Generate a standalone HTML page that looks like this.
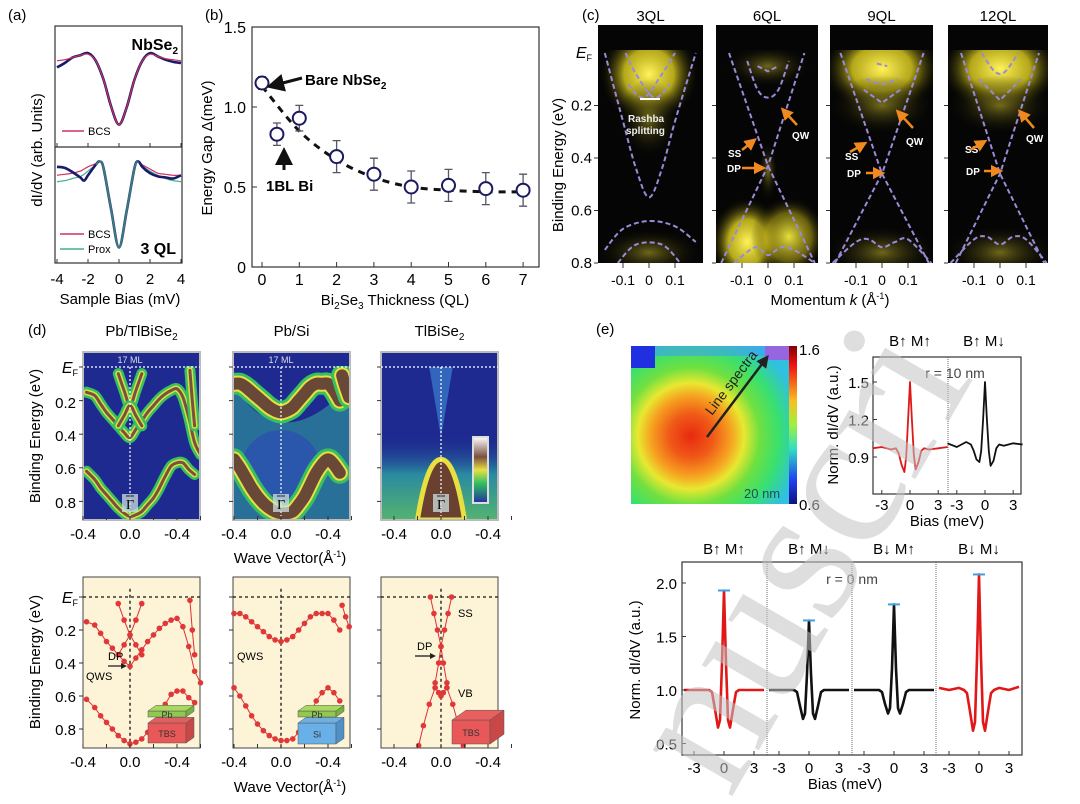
<!DOCTYPE html>
<html><head><meta charset="utf-8">
<style>
html,body{margin:0;padding:0;background:#fff;width:1080px;height:804px;overflow:hidden;}
svg{display:block;overflow:hidden;font-family:"Liberation Sans",Arial,sans-serif;}
</style></head>
<body>
<svg id="fig" width="1080" height="804" viewBox="0 0 1080 804" xmlns="http://www.w3.org/2000/svg">
<defs>
  <clipPath id="pageClip"><rect x="0" y="0" width="1080" height="804"/></clipPath>
  <radialGradient id="glowY" cx="50%" cy="50%" r="50%"><stop offset="0" stop-color="#f2ea40" stop-opacity="0.95"/><stop offset="0.6" stop-color="#b8a818" stop-opacity="0.55"/><stop offset="1" stop-color="#000" stop-opacity="0"/></radialGradient>
  <radialGradient id="glowY2" cx="50%" cy="50%" r="50%"><stop offset="0" stop-color="#fff25a" stop-opacity="1"/><stop offset="0.5" stop-color="#e0d020" stop-opacity="0.8"/><stop offset="1" stop-color="#000" stop-opacity="0"/></radialGradient>
  <radialGradient id="glowDim" cx="50%" cy="50%" r="50%"><stop offset="0" stop-color="#8a8020" stop-opacity="0.8"/><stop offset="1" stop-color="#000" stop-opacity="0"/></radialGradient>
  <radialGradient id="mapG" cx="38%" cy="57%" r="70%"><stop offset="0" stop-color="#e82a10"/><stop offset="0.2" stop-color="#f05a18"/><stop offset="0.36" stop-color="#f6a020"/><stop offset="0.48" stop-color="#e8e830"/><stop offset="0.62" stop-color="#70e040"/><stop offset="0.8" stop-color="#38e070"/><stop offset="1" stop-color="#30c0e0"/></radialGradient>
  <linearGradient id="cbar" x1="0" y1="0" x2="0" y2="1"><stop offset="0" stop-color="#800000"/><stop offset="0.12" stop-color="#f01010"/><stop offset="0.35" stop-color="#f8c020"/><stop offset="0.5" stop-color="#a0f040"/><stop offset="0.65" stop-color="#30e0c0"/><stop offset="0.85" stop-color="#2040f0"/><stop offset="1" stop-color="#101080"/></linearGradient>
  <linearGradient id="legG" x1="0" y1="0" x2="0" y2="1"><stop offset="0" stop-color="#fff"/><stop offset="0.3" stop-color="#7a5040"/><stop offset="0.5" stop-color="#e8e040"/><stop offset="0.7" stop-color="#30c060"/><stop offset="1" stop-color="#2030a0"/></linearGradient>
  <linearGradient id="tlbLow" x1="0" y1="0" x2="0" y2="1"><stop offset="0" stop-color="#1e2a90" stop-opacity="0"/><stop offset="0.4" stop-color="#2a8aa0"/><stop offset="1" stop-color="#60c060"/></linearGradient>
  <marker id="arrB" markerWidth="6" markerHeight="6" refX="3" refY="3" orient="auto"><path d="M0,0 L6,3 L0,6 z" fill="#111"/></marker>
  <marker id="arrO" markerWidth="5" markerHeight="5" refX="2.5" refY="2.5" orient="auto"><path d="M0,0 L5,2.5 L0,5 z" fill="#f08a20"/></marker>
  <marker id="arrK" markerWidth="5" markerHeight="5" refX="2.5" refY="2.5" orient="auto"><path d="M0,0 L5,2.5 L0,5 z" fill="#222"/></marker>
</defs>
<g clip-path="url(#pageClip)">

<!-- ===== (a) ===== -->
<g>
  <text x="8" y="20" font-size="15">(a)</text>
  <rect x="55" y="26" width="127" height="237" fill="none" stroke="#333" stroke-width="1.2"/>
  <line x1="55" y1="147" x2="182" y2="147" stroke="#333" stroke-width="1.2"/>
  <text x="178" y="50" font-size="16" font-weight="bold" text-anchor="end">NbSe<tspan font-size="10" dy="4">2</tspan></text>
  <text x="176" y="254" font-size="16" font-weight="bold" text-anchor="end">3 QL</text>
  <line x1="62" y1="131" x2="84" y2="131" stroke="#d03060" stroke-width="1.5"/>
  <text x="88" y="135" font-size="11">BCS</text>
  <line x1="60" y1="234" x2="84" y2="234" stroke="#d03060" stroke-width="1.5"/>
  <text x="88" y="238" font-size="11">BCS</text>
  <line x1="60" y1="249" x2="84" y2="249" stroke="#40b090" stroke-width="1.5"/>
  <text x="88" y="253" font-size="11">Prox</text>
  <g id="aCurves"></g>
  <g id="aTicks" font-size="15" text-anchor="middle"></g>
  <text x="120" y="304" font-size="15" text-anchor="middle">Sample Bias (mV)</text>
  <text transform="translate(42,150) rotate(-90)" font-size="15" text-anchor="middle">dI/dV (arb. Units)</text>
</g>

<!-- ===== (b) ===== -->
<g>
  <text x="205" y="20" font-size="15">(b)</text>
  <rect x="252" y="27" width="287" height="240" fill="none" stroke="#333" stroke-width="1.2"/>
  <g id="bTicks" font-size="16"></g>
  <g id="bMarks"></g>
  <text x="305" y="85" font-size="15" font-weight="bold">Bare NbSe<tspan font-size="10" dy="4">2</tspan></text>
  <line x1="302" y1="78" x2="275" y2="85" stroke="#111" stroke-width="3" marker-end="url(#arrB)"/>
  <text x="266" y="191" font-size="15" font-weight="bold">1BL Bi</text>
  <line x1="284" y1="170" x2="284" y2="156" stroke="#111" stroke-width="3" marker-end="url(#arrB)"/>
  <text x="395" y="305" font-size="15" text-anchor="middle">Bi<tspan font-size="10" dy="4">2</tspan><tspan dy="-4">Se</tspan><tspan font-size="10" dy="4">3</tspan><tspan dy="-4"> Thickness (QL)</tspan></text>
  <text transform="translate(212,148) rotate(-90)" font-size="15" text-anchor="middle">Energy Gap Δ(meV)</text>
</g>

<!-- ===== (c) ===== -->
<g>
  <text x="582" y="20" font-size="15">(c)</text>
  <g id="cPanels"></g>
  <g font-size="14" text-anchor="end">
    <text x="592" y="58" font-style="italic" font-size="16">E<tspan font-size="9" dy="3" font-style="normal">F</tspan></text>
  </g>
  <text transform="translate(563,165) rotate(-90)" font-size="15" text-anchor="middle">Binding Energy (eV)</text>
  <text x="830" y="305" font-size="15" text-anchor="middle">Momentum <tspan font-style="italic">k</tspan> (Å<tspan font-size="9" dy="-6">-1</tspan><tspan dy="6">)</tspan></text>
  <g font-size="10" font-weight="bold" fill="#fff">
    <text x="628" y="122" fill="#eee">Rashba</text>
    <text x="626" y="134" fill="#eee">splitting</text>
    <line x1="640" y1="99" x2="660" y2="99" stroke="#fff" stroke-width="2"/>
    <text x="728" y="157">SS</text>
    <text x="727" y="172">DP</text>
    <text x="792" y="139">QW</text>
    <text x="845" y="160">SS</text>
    <text x="847" y="177">DP</text>
    <text x="906" y="145">QW</text>
    <text x="965" y="153">SS</text>
    <text x="966" y="175">DP</text>
    <text x="1026" y="142">QW</text>
  </g>
  <g stroke="#f08a20" stroke-width="2.5" marker-end="url(#arrO)">
    <line x1="742" y1="150" x2="752" y2="142"/>
    <line x1="742" y1="168" x2="760" y2="168"/>
    <line x1="797" y1="125" x2="785" y2="112"/>
    <line x1="850" y1="152" x2="862" y2="145"/>
    <line x1="866" y1="173" x2="879" y2="173"/>
    <line x1="913" y1="128" x2="900" y2="114"/>
    <line x1="970" y1="150" x2="982" y2="143"/>
    <line x1="984" y1="171" x2="997" y2="171"/>
    <line x1="1034" y1="128" x2="1022" y2="114"/>
  </g>
</g>

<!-- ===== (d) ===== -->
<g>
  <text x="28" y="335" font-size="15">(d)</text>
  <g id="dPanels"></g>
  <text transform="translate(40,436) rotate(-90)" font-size="15" text-anchor="middle">Binding Energy (eV)</text>
  <text transform="translate(40,662) rotate(-90)" font-size="15" text-anchor="middle">Binding Energy (eV)</text>
  <text x="290" y="563" font-size="15" text-anchor="middle">Wave Vector(Å<tspan font-size="9" dy="-6">-1</tspan><tspan dy="6">)</tspan></text>
  <text x="290" y="792" font-size="15" text-anchor="middle">Wave Vector(Å<tspan font-size="9" dy="-6">-1</tspan><tspan dy="6">)</tspan></text>
</g>

<!-- ===== (e) ===== -->
<g>
  <text x="596" y="334" font-size="15">(e)</text>
  <rect x="631" y="346" width="158" height="158" fill="url(#mapG)"/>
  <rect x="631" y="346" width="24" height="22" fill="#2030e0"/>
  <rect x="655" y="346" width="110" height="10" fill="#40a0f0" opacity="0.6"/>
  <rect x="765" y="346" width="24" height="14" fill="#c040e0" opacity="0.7"/>
  <line x1="707" y1="437" x2="765" y2="360" stroke="#222" stroke-width="2.5" marker-end="url(#arrK)"/>
  <text transform="translate(712,416) rotate(-53)" font-size="14" fill="#222">Line spectra</text>
  <text x="744" y="498" font-size="13" fill="#205060">20 nm</text>
  <rect x="789" y="346" width="8" height="158" fill="url(#cbar)"/>
  <text x="799" y="355" font-size="15">1.6</text>
  <text x="799" y="510" font-size="15">0.6</text>
  <rect x="873" y="357" width="148" height="137" fill="none" stroke="#333" stroke-width="1.2"/>
  <line x1="948" y1="357" x2="948" y2="494" stroke="#444" stroke-width="0.8" stroke-dasharray="1,1"/>
  <text x="910" y="346" font-size="15" text-anchor="middle">B↑ M↑</text>
  <text x="984" y="346" font-size="15" text-anchor="middle">B↑ M↓</text>
  <text x="955" y="378" font-size="14" fill="#444" text-anchor="middle">r = 10 nm</text>
  <text x="947" y="526" font-size="15" text-anchor="middle">Bias (meV)</text>
  <text transform="translate(838,425) rotate(-90)" font-size="15" text-anchor="middle">Norm. dI/dV (a.u.)</text>
  <g id="eSmall"></g>
  <rect x="682" y="562" width="340" height="193" fill="none" stroke="#333" stroke-width="1.2"/>
  <line x1="767" y1="562" x2="767" y2="755" stroke="#444" stroke-width="0.8" stroke-dasharray="1,1"/>
  <line x1="852" y1="562" x2="852" y2="755" stroke="#444" stroke-width="0.8" stroke-dasharray="1,1"/>
  <line x1="936" y1="562" x2="936" y2="755" stroke="#444" stroke-width="0.8" stroke-dasharray="1,1"/>
  <text x="724" y="554" font-size="15" text-anchor="middle">B↑ M↑</text>
  <text x="809" y="554" font-size="15" text-anchor="middle">B↑ M↓</text>
  <text x="894" y="554" font-size="15" text-anchor="middle">B↓ M↑</text>
  <text x="979" y="554" font-size="15" text-anchor="middle">B↓ M↓</text>
  <text x="852" y="584" font-size="14" fill="#444" text-anchor="middle">r = 0 nm</text>
  <text x="845" y="789" font-size="15" text-anchor="middle">Bias (meV)</text>
  <text transform="translate(640,660) rotate(-90)" font-size="15" text-anchor="middle">Norm. dI/dV (a.u.)</text>
  <g id="eBig"></g>
</g>

<!-- watermark -->
<g fill="#c4c4c4" opacity="0.55" font-size="200" font-family="'Liberation Serif',serif">
  <text transform="translate(730,800) rotate(-60)">nuscri</text>
</g>
</g>
</svg>

<script>
// ---------- data ----------
// (a)
const aBias = [-4,-3.5,-3,-2.5,-2,-1.5,-1,-0.5,0,0.5,1,1.5,2,2.5,3,3.5,4];
const aNbSe2 = [0.66,0.70,0.75,0.77,0.79,0.72,0.55,0.30,0.14,0.30,0.55,0.72,0.79,0.76,0.73,0.71,0.70];
const aNbSe2Bcs = [0.72,0.73,0.75,0.77,0.78,0.72,0.55,0.30,0.14,0.30,0.55,0.72,0.78,0.76,0.74,0.73,0.72];
const aBias2 = [-4,-3.5,-3,-2.5,-2.25,-2,-1.5,-1.25,-1,-0.5,0,0.5,1,1.25,1.5,2,2.5,3,3.5,4];
const a3QL = [0.86,0.85,0.81,0.76,0.73,0.78,0.88,0.91,0.85,0.45,0.10,0.45,0.85,0.91,0.86,0.80,0.77,0.76,0.75,0.78];
const a3QLBcs = [0.78,0.79,0.80,0.82,0.84,0.86,0.89,0.91,0.85,0.45,0.10,0.45,0.85,0.91,0.88,0.84,0.80,0.79,0.78,0.78];
const a3QLProx = [0.72,0.73,0.75,0.77,0.79,0.82,0.88,0.91,0.85,0.45,0.10,0.45,0.85,0.91,0.87,0.82,0.78,0.75,0.73,0.72];
const aTicks = [-4,-2,0,2,4];
// (b)
const bThick = [0,0.4,1,2,3,4,5,6,7];
const bGap = [1.15,0.83,0.93,0.69,0.58,0.50,0.51,0.49,0.48];
const bErr = [0.04,0.07,0.08,0.10,0.10,0.10,0.10,0.10,0.10];
const bFitX = [0,1,2,3,4,5,6,7];
const bFitY = [1.13,0.85,0.67,0.56,0.50,0.48,0.47,0.47];
const bYTicks = [0,0.5,1.0,1.5];
const bXTicks = [0,1,2,3,4,5,6,7];
// (c)
const cTitles = ['3QL','6QL','9QL','12QL'];
const cYTicks = [0.2,0.4,0.6,0.8];
const cXTicks = [-0.1,0,0.1];
const cBands = [
  [ {k:[-0.17,-0.1,-0.05,0,0.05,0.1,0.18], E:[0,0.26,0.44,0.55,0.44,0.26,0]},
    {k:[-0.09,-0.05,0.02,0.08], E:[0.0,0.08,0.17,0.12]},
    {k:[-0.08,-0.02,0.05,0.1], E:[0.12,0.17,0.08,0.0]},
    {k:[-0.17,-0.1,0,0.1,0.18], E:[0.75,0.67,0.64,0.66,0.72]},
    {k:[-0.12,-0.05,0.05,0.12], E:[0.8,0.73,0.73,0.8]} ],
  [ {k:[-0.15,0,0.18], E:[0,0.43,0.8]},
    {k:[-0.18,0,0.14], E:[0.8,0.43,0]},
    {k:[-0.08,-0.04,0,0.04,0.08], E:[0.03,0.14,0.17,0.14,0.03]},
    {k:[-0.04,0,0.04], E:[0.05,0.07,0.05]},
    {k:[-0.13,-0.05,0,0.05,0.1,0.18], E:[0.8,0.74,0.77,0.74,0.75,0.8]} ],
  [ {k:[-0.16,0,0.18], E:[0,0.46,0.8]},
    {k:[-0.18,0,0.16], E:[0.8,0.46,0]},
    {k:[-0.06,0,0.06], E:[0.1,0.12,0.1]},
    {k:[-0.07,0,0.07], E:[0.14,0.19,0.14]},
    {k:[-0.02,0.02], E:[0.04,0.05]},
    {k:[-0.19,-0.1,-0.05,0,0.05,0.1,0.19], E:[0.8,0.72,0.71,0.74,0.72,0.71,0.8]} ],
  [ {k:[-0.15,0,0.17], E:[0,0.46,0.8]},
    {k:[-0.17,0,0.15], E:[0.8,0.46,0]},
    {k:[-0.07,-0.03,0,0.03,0.07], E:[0.0,0.06,0.08,0.06,0.0]},
    {k:[-0.08,0,0.08], E:[0.1,0.18,0.1]},
    {k:[-0.19,-0.1,-0.05,0,0.05,0.1,0.18], E:[0.8,0.71,0.7,0.73,0.7,0.71,0.8]} ]
];
// (d)
const dTitles = ['Pb/TlBiSe2','Pb/Si','TlBiSe2'];
const dYTicks = [0.2,0.4,0.6,0.8];
const dXTicks = [-0.4,0,0.4];
const dXTickLabels = ['-0.4','0.0','-0.4'];
const dBands = [
  [ {k:[-0.37,-0.3,-0.25,-0.2,-0.15,-0.1,-0.05,0,0.05,0.1,0.15,0.2,0.25,0.3,0.35,0.4,0.45,0.5,0.55,0.6], E:[0.15,0.17,0.22,0.27,0.31,0.35,0.39,0.42,0.37,0.32,0.27,0.23,0.19,0.16,0.14,0.13,0.18,0.30,0.45,0.52]},
    {k:[-0.1,-0.05,0,0.05,0.1], E:[0.04,0.14,0.23,0.14,0.04]},
    {k:[-0.1,-0.05,0,0.05,0.1], E:[0.35,0.29,0.23,0.29,0.35]},
    {k:[0.51,0.53,0.55], E:[0.02,0.2,0.35]},
    {k:[-0.37,-0.3,-0.25,-0.2,-0.15,-0.1,-0.05,0,0.05,0.1,0.15,0.2,0.25,0.3,0.35,0.4,0.45,0.5,0.55], E:[0.62,0.67,0.72,0.76,0.80,0.84,0.87,0.89,0.88,0.86,0.82,0.78,0.72,0.65,0.59,0.57,0.57,0.61,0.64]} ],
  [ {k:[-0.4,-0.35,-0.3,-0.25,-0.2,-0.15,-0.1,-0.05,0,0.05,0.1,0.15,0.2,0.25,0.3,0.35,0.4,0.45,0.5], E:[0.1,0.1,0.12,0.15,0.18,0.21,0.24,0.26,0.27,0.26,0.24,0.2,0.16,0.12,0.1,0.1,0.1,0.14,0.2]},
    {k:[0.52,0.55,0.58], E:[0.05,0.12,0.18]},
    {k:[-0.4,-0.35,-0.3,-0.25,-0.2,-0.15,-0.1,-0.05,0,0.05,0.1,0.15,0.2,0.25,0.3,0.35,0.4,0.45,0.5], E:[0.55,0.6,0.66,0.72,0.77,0.81,0.84,0.86,0.87,0.87,0.86,0.82,0.77,0.7,0.63,0.58,0.55,0.58,0.63]} ],
  [ {k:[-0.09,-0.06,-0.03,0,0.03,0.06,0.09], E:[0,0.1,0.2,0.3,0.2,0.1,0]},
    {k:[-0.05,-0.02,0,0.02,0.05], E:[0.52,0.4,0.3,0.4,0.52]},
    {k:[-0.05,-0.02,0,0.02,0.05], E:[0.55,0.58,0.6,0.58,0.55]},
    {k:[-0.05,-0.1,-0.15,-0.19], E:[0.55,0.65,0.78,0.9]},
    {k:[0.05,0.1,0.15,0.19], E:[0.55,0.65,0.78,0.9]} ]
];
// (e)
const eBias = [-4,-3,-2,-1.5,-1.2,-0.9,-0.6,-0.4,-0.2,0,0.2,0.4,0.6,0.9,1.2,1.5,2,3,4];
const eSmallSeries = [
  [0.97,0.98,0.96,0.97,0.93,0.84,0.78,0.90,1.2,1.50,1.2,0.92,0.80,0.86,0.95,0.97,0.96,0.97,0.98],
  [1.01,0.98,1.02,1.0,0.95,0.88,0.86,0.95,1.2,1.50,1.2,0.95,0.83,0.87,0.97,1.0,0.99,1.01,1.0]
];
const eSmallColors = ['#e01818','#111'];
const eBigSeries = [
  [1.0,1.0,1.0,1.0,0.98,0.82,0.65,0.72,1.25,1.93,1.25,0.72,0.65,0.82,0.98,1.0,1.0,1.0,1.0],
  [1.0,1.0,1.0,1.0,0.98,0.85,0.73,0.78,1.15,1.65,1.15,0.78,0.73,0.85,0.98,1.0,1.0,1.0,1.0],
  [1.0,1.0,1.0,1.0,0.98,0.87,0.78,0.83,1.2,1.80,1.2,0.83,0.78,0.87,0.98,1.0,1.0,1.0,1.0],
  [1.02,1.0,1.02,1.0,0.97,0.80,0.62,0.70,1.3,2.08,1.3,0.70,0.62,0.80,0.97,1.0,1.02,1.0,1.03]
];
const eBigColors = ['#e01818','#111','#111','#e01818'];
const eSmallYTicks = [0.9,1.2,1.5];
const eBigYTicks = [0.5,1.0,1.5,2.0];
const eXTicks = [-3,0,3];

// ---------- helpers ----------
const NS = 'http://www.w3.org/2000/svg';
function mk(tag, parent){ const e=document.createElementNS(NS,tag); parent.appendChild(e); return e; }
function smooth(pts){
  if(pts.length<3) return 'M'+pts.map(p=>p[0].toFixed(1)+','+p[1].toFixed(1)).join(' L');
  let d='M'+pts[0][0].toFixed(1)+','+pts[0][1].toFixed(1);
  for(let i=0;i<pts.length-1;i++){
    const p0=pts[i-1]||pts[i], p1=pts[i], p2=pts[i+1], p3=pts[i+2]||p2;
    const c1=[p1[0]+(p2[0]-p0[0])/6, p1[1]+(p2[1]-p0[1])/6];
    const c2=[p2[0]-(p3[0]-p1[0])/6, p2[1]-(p3[1]-p1[1])/6];
    d+=' C'+c1[0].toFixed(1)+','+c1[1].toFixed(1)+' '+c2[0].toFixed(1)+','+c2[1].toFixed(1)+' '+p2[0].toFixed(1)+','+p2[1].toFixed(1);
  }
  return d;
}
function txt(parent,x,y,s,size,anchor){ const t=mk('text',parent); t.setAttribute('x',x); t.setAttribute('y',y); t.setAttribute('font-size',size); t.setAttribute('text-anchor',anchor||'middle'); t.textContent=s; return t; }
function ln(parent,x1,y1,x2,y2,col,w){ const l=mk('line',parent); l.setAttribute('x1',x1); l.setAttribute('y1',y1); l.setAttribute('x2',x2); l.setAttribute('y2',y2); l.setAttribute('stroke',col); l.setAttribute('stroke-width',w); return l; }

// ---------- (a) ----------
const xA = v => 119 + v*15.5;
const yAt = v => 140 - v*110;
const yAb = v => 258 - v*106;
const aG = document.getElementById('aCurves');
function aCurve(xs, ys, ysc, col, w, name){
  const p = mk('path', aG);
  p.setAttribute('d', smooth(xs.map((x,i)=>[xA(x), ysc(ys[i])])));
  p.setAttribute('fill','none'); p.setAttribute('stroke',col); p.setAttribute('stroke-width',w);
  
  
}
aCurve(aBias, aNbSe2, yAt, '#1a1a6a', 2.6, 'nbse2-data-curve');
aCurve(aBias, aNbSe2Bcs, yAt, '#d03060', 1.2, 'nbse2-bcs-fit');
aCurve(aBias2, a3QLProx, yAb, '#40b090', 1.2, '3ql-prox-fit');
aCurve(aBias2, a3QLBcs, yAb, '#d03060', 1.2, '3ql-bcs-fit');
aCurve(aBias2, a3QL, yAb, '#1a1a6a', 2.6, '3ql-data-curve');
{
  const a3 = mk('path', aG);
  a3.setAttribute('d', smooth(aBias2.map((x,i)=>[xA(x), yAb(a3QL[i])]).slice(6,14)));
  a3.setAttribute('fill','none'); a3.setAttribute('stroke','#3a7a80'); a3.setAttribute('stroke-width',2);
  
  
}
const aT = document.getElementById('aTicks');
aTicks.forEach(v=>{
  const t = txt(aT, xA(v), 284, String(v), 15);
  
  
  const m = ln(aT, xA(v), 263, xA(v), 259, '#333', 1);
  
  
  const m2 = ln(aT, xA(v), 147, xA(v), 143, '#333', 1);
  
  
});

// ---------- (b) ----------
const xB = q => 262 + q*37.3;
const yB = g => 267 - g*160;
const bT = document.getElementById('bTicks');
bYTicks.forEach(v=>{
  const t = txt(bT, 246, yB(v)+6, v===0?'0':v.toFixed(1), 16, 'end');
  
  
  const m = ln(bT, 252, yB(v), 257, yB(v), '#333', 1);
  
  
});
bXTicks.forEach(v=>{
  const t = txt(bT, xB(v), 285, String(v), 16);
  
  
  const m = ln(bT, xB(v), 267, xB(v), 262, '#333', 1);
  
  
});
const bM = document.getElementById('bMarks');
{
  const fit = mk('path', bM);
  fit.setAttribute('d', smooth(bFitX.map((x,i)=>[xB(x), yB(bFitY[i])])));
  fit.setAttribute('fill','none'); fit.setAttribute('stroke','#111'); fit.setAttribute('stroke-width',3); fit.setAttribute('stroke-dasharray','7,6');
  
  
}
bThick.forEach((q,i)=>{
  const x=xB(q), y=yB(bGap[i]), e=bErr[i]*160;
  const eb = mk('path', bM);
  eb.setAttribute('d', `M${x},${y-e} L${x},${y+e} M${x-4},${y-e} L${x+4},${y-e} M${x-4},${y+e} L${x+4},${y+e}`);
  eb.setAttribute('stroke','#556'); eb.setAttribute('stroke-width',1.3); eb.setAttribute('fill','none');
  
  
  const c = mk('circle', bM);
  c.setAttribute('cx',x); c.setAttribute('cy',y); c.setAttribute('r',6.5);
  c.setAttribute('fill','#fff'); c.setAttribute('stroke','#1a1a60'); c.setAttribute('stroke-width',2);
  
  
});

// ---------- (c) ----------
const cX0 = [649, 768, 882, 1000];
const cL = [598, 716, 830, 948];
const cR = [703, 818, 933, 1048];
const yC = E => 53 + E*262.5;
const cG = document.getElementById('cPanels');
cTitles.forEach((title,p)=>{
  const g = mk('g', cG);
  
  
  const cpId = 'cclip'+p;
  const cp = mk('clipPath', g); cp.setAttribute('id',cpId);
  const cr = mk('rect', cp); cr.setAttribute('x',cL[p]); cr.setAttribute('y',25); cr.setAttribute('width',cR[p]-cL[p]); cr.setAttribute('height',238);
  const gi = mk('g', g); gi.setAttribute('clip-path','url(#'+cpId+')');
  const bg = mk('rect', gi);
  bg.setAttribute('x',cL[p]); bg.setAttribute('y',25); bg.setAttribute('width',cR[p]-cL[p]); bg.setAttribute('height',238); bg.setAttribute('fill','#050505');
  
  
  const xk = k => cX0[p] + k*260;
  const glows = p===0 ? [[0,0.08,50,50,'glowY2'],[0,0.25,30,40,'glowDim'],[0,0.76,55,25,'glowDim']]
              : p===1 ? [[0,0.05,45,22,'glowDim'],[-0.08,0.72,38,45,'glowY2'],[0.08,0.7,38,40,'glowY'],[0,0.45,10,30,'glowDim']]
              : [[0,0.06,60,45,'glowY2'],[0,0.2,55,30,'glowDim'],[0,0.76,58,28,'glowDim']];
  glows.forEach(gl=>{
    const e = mk('ellipse', gi);
    e.setAttribute('cx',xk(gl[0])); e.setAttribute('cy',yC(gl[1])); e.setAttribute('rx',gl[2]); e.setAttribute('ry',gl[3]); e.setAttribute('fill','url(#'+gl[4]+')');
    
    
  });
  const cover = mk('rect', gi);
  cover.setAttribute('x',cL[p]); cover.setAttribute('y',25); cover.setAttribute('width',cR[p]-cL[p]); cover.setAttribute('height',25); cover.setAttribute('fill','#050505');
  
  
  cBands[p].forEach(b=>{
    const path = mk('path', gi);
    path.setAttribute('d', (b.k.length===3 && p>0) ? 'M'+b.k.map((k,i)=>xk(k)+','+yC(b.E[i])).join(' L') : smooth(b.k.map((k,i)=>[xk(k), yC(b.E[i])])));
    path.setAttribute('fill','none'); path.setAttribute('stroke','#9a8ad8'); path.setAttribute('stroke-width',2); path.setAttribute('stroke-dasharray','5,3');
    
    
  });
  const t = txt(cG, (cL[p]+cR[p])/2, 21, title, 15);
  
  
  cXTicks.forEach(k=>{
    const lab = txt(cG, xk(k), 285, k===0?'0':String(k), 14);
    
    
    const m = ln(cG, xk(k), 263, xk(k), 268, '#333', 1);
    
    
  });
  cYTicks.forEach(E=>{
    const m = ln(cG, cL[p]-4, yC(E), cL[p], yC(E), '#333', 1);
    
    
  });
});
cYTicks.forEach(E=>{
  const lab = txt(cG, 592, yC(E)+5, E.toFixed(1), 15, 'end');
  
  
});

// ---------- (d) ----------
const dX0 = [130, 281, 441];
const dL = [83, 233, 381];
const dR = [200, 350, 498];
const yDt = E => 367 + E*168;
const yDb = E => 597 + E*165;
const dG = document.getElementById('dPanels');
dTitles.forEach((title,p)=>{
  const xk = k => dX0[p] + k*117.5;
  const tt = mk('text', dG);
  tt.setAttribute('x',(dL[p]+dR[p])/2); tt.setAttribute('y',336); tt.setAttribute('font-size',15); tt.setAttribute('text-anchor','middle');
  tt.textContent = title.replace('Se2','Se');
  if(title.endsWith('Se2')){ const s=mk('tspan',tt); s.setAttribute('font-size',10); s.setAttribute('dy',4); s.textContent='2'; }
  
  
  const g = mk('g', dG);
  
  
  const clipId = 'dclip'+p;
  const cp = mk('clipPath', g); cp.setAttribute('id',clipId);
  const cr = mk('rect', cp); cr.setAttribute('x',dL[p]); cr.setAttribute('y',352); cr.setAttribute('width',dR[p]-dL[p]); cr.setAttribute('height',168);
  const gi = mk('g', g); gi.setAttribute('clip-path','url(#'+clipId+')');
  const bg = mk('rect', gi);
  bg.setAttribute('x',dL[p]); bg.setAttribute('y',352); bg.setAttribute('width',dR[p]-dL[p]); bg.setAttribute('height',168); bg.setAttribute('fill','#1e2a90');
  
  
  if(p===1){
    const inner = mk('path', gi);
    inner.setAttribute('d', `M${dL[p]},385 Q${xk(0)},460 ${dR[p]},385 L${dR[p]},520 L${dL[p]},520 Z`);
    inner.setAttribute('fill','#30a0a0'); inner.setAttribute('opacity',0.6);
    
    
    const blue = mk('ellipse', gi);
    blue.setAttribute('cx',xk(0)); blue.setAttribute('cy',470); blue.setAttribute('rx',40); blue.setAttribute('ry',40); blue.setAttribute('fill','#2a50b0'); blue.setAttribute('opacity',0.8);
    
    
  }
  if(p===2){
    const low = mk('rect', gi);
    low.setAttribute('x',dL[p]); low.setAttribute('y',yDt(0.4)); low.setAttribute('width',dR[p]-dL[p]); low.setAttribute('height',100); low.setAttribute('fill','url(#tlbLow)');
    
    
    const vb = mk('path', gi);
    vb.setAttribute('d', `M${xk(-0.2)},520 Q${xk(-0.12)},${yDt(0.55)} ${xk(0)},${yDt(0.55)} Q${xk(0.12)},${yDt(0.55)} ${xk(0.2)},520 Z`);
    vb.setAttribute('fill','#6a4030'); vb.setAttribute('stroke','#e8e040'); vb.setAttribute('stroke-width',5);
    
    
    const cone = mk('path', gi);
    cone.setAttribute('d', `M${xk(-0.1)},${yDt(0)} L${xk(0)},${yDt(0.42)} L${xk(0.1)},${yDt(0)} Z`);
    cone.setAttribute('fill','#3a80d0'); cone.setAttribute('opacity',0.7);
    
    
  }
  const layers = p===1 ? [[22,'#38c060'],[16,'#e8e040'],[12,'#6a4838']] : [[11,'#38c060'],[6,'#d8e040'],[3,'#7a5040']];
  if(p<2) dBands[p].forEach(b=>{
    layers.forEach(L=>{
      const path = mk('path', gi);
      path.setAttribute('d', smooth(b.k.map((k,i)=>[xk(k), yDt(b.E[i])])));
      path.setAttribute('fill','none'); path.setAttribute('stroke',L[1]); path.setAttribute('stroke-width',L[0]); path.setAttribute('stroke-linecap','round');
      
      
    });
  });
  const topbar = mk('rect', gi);
  topbar.setAttribute('x',dL[p]); topbar.setAttribute('y',352); topbar.setAttribute('width',dR[p]-dL[p]); topbar.setAttribute('height',14); topbar.setAttribute('fill','#1e2a90');
  
  
  const fr = mk('rect', g);
  fr.setAttribute('x',dL[p]); fr.setAttribute('y',352); fr.setAttribute('width',dR[p]-dL[p]); fr.setAttribute('height',168); fr.setAttribute('fill','none'); fr.setAttribute('stroke','#bbb'); fr.setAttribute('stroke-width',2);
  
  
  const ef = ln(g, dL[p], yDt(0), dR[p], yDt(0), '#fff', 1.2); ef.setAttribute('stroke-dasharray','2,2');
  
  
  const k0 = ln(g, xk(0), yDt(0), xk(0), 520, '#fff', 1.2); k0.setAttribute('stroke-dasharray','2,2');
  
  
  const gb = mk('rect', g);
  gb.setAttribute('x',xk(0)-8); gb.setAttribute('y',494); gb.setAttribute('width',16); gb.setAttribute('height',18); gb.setAttribute('fill','#cfe0e0'); gb.setAttribute('opacity',0.75);
  
  
  const gt = txt(g, xk(0), 509, 'Γ', 14); gt.setAttribute('font-family','Liberation Serif,serif');
  
  
  const gbar = ln(g, xk(0)-4, 496, xk(0)+4, 496, '#222', 1);
  
  
  if(p<2){
    const ml = txt(g, xk(0), 363, '17 ML', 9); ml.setAttribute('fill','#ddd');
    
    
  }
  if(p===2){
    const lg = mk('rect', g);
    lg.setAttribute('x',473); lg.setAttribute('y',437); lg.setAttribute('width',15); lg.setAttribute('height',66); lg.setAttribute('fill','url(#legG)'); lg.setAttribute('stroke','#ddd'); lg.setAttribute('stroke-width',2);
    
    
  }
  const gb2 = mk('g', dG);
  
  
  const bb = mk('rect', gb2);
  bb.setAttribute('x',dL[p]); bb.setAttribute('y',577); bb.setAttribute('width',dR[p]-dL[p]); bb.setAttribute('height',171); bb.setAttribute('fill','#fdf3d6'); bb.setAttribute('stroke','#444'); bb.setAttribute('stroke-width',1);
  
  
  const efb = ln(gb2, dL[p], yDb(0), dR[p]+2, yDb(0), '#111', 1.3); efb.setAttribute('stroke-dasharray','3,3');
  
  
  const k0b = ln(gb2, xk(0), yDb(-0.05), xk(0), 748, '#111', 1.3); k0b.setAttribute('stroke-dasharray','3,3');
  
  
  dBands[p].forEach(b=>{
    const pl = mk('polyline', gb2);
    pl.setAttribute('points', b.k.map((k,i)=>xk(k)+','+yDb(b.E[i])).join(' '));
    pl.setAttribute('fill','none'); pl.setAttribute('stroke','#e03030'); pl.setAttribute('stroke-width',1);
    
    
    b.k.forEach((k,i)=>{
      const c = mk('circle', gb2);
      c.setAttribute('cx',xk(k)); c.setAttribute('cy',yDb(b.E[i])); c.setAttribute('r',2.8); c.setAttribute('fill','#e03838');
      
      
    });
  });
  dXTicks.forEach((k,i)=>{
    [520,748].forEach(yb=>{
      const lab = txt(dG, xk(k), yb+19, dXTickLabels[i], 15);
      
      
    });
  });
  [-0.4,-0.2,0,0.2,0.4,0.6].forEach(k=>{
    [520,748].forEach(yb=>{
      const m = ln(dG, xk(k), yb, xk(k), yb-4, '#333', 1);
      
      
    });
  });
  [0].concat(dYTicks).forEach(E=>{
    const m1 = ln(dG, dL[p]-4, yDt(E), dL[p], yDt(E), '#333', 1);
    
    
    const m2 = ln(dG, dL[p]-4, yDb(E), dL[p], yDb(E), '#333', 1);
    
    
  });
});
function block(x,y,w,h,d,topCol,frontCol,sideCol,label,name){
  const g = mk('g', dG);
  
  
  const f = mk('rect', g); f.setAttribute('x',x); f.setAttribute('y',y); f.setAttribute('width',w); f.setAttribute('height',h); f.setAttribute('fill',frontCol); f.setAttribute('stroke','#555'); f.setAttribute('stroke-width',0.5);
  const t = mk('path', g); t.setAttribute('d',`M${x},${y} L${x+d},${y-d*0.7} L${x+w+d},${y-d*0.7} L${x+w},${y} Z`); t.setAttribute('fill',topCol); t.setAttribute('stroke','#555'); t.setAttribute('stroke-width',0.5);
  const s = mk('path', g); s.setAttribute('d',`M${x+w},${y} L${x+w+d},${y-d*0.7} L${x+w+d},${y+h-d*0.7} L${x+w},${y+h} Z`); s.setAttribute('fill',sideCol); s.setAttribute('stroke','#555'); s.setAttribute('stroke-width',0.5);
  const l = txt(g, x+w/2, y+h/2+4, label, 9); l.setAttribute('fill','#333');
}
block(148,723,38,20,8,'#e06060','#e85858','#c84848','TBS','inset-tbs-block');
block(148,711,38,6,8,'#a8d860','#90c850','#78b040','Pb','inset-pb-layer');
block(298,723,38,21,8,'#70b0e0','#6ab0e8','#5090c8','Si','inset-si-block');
block(298,711,38,6,8,'#a8d860','#90c850','#78b040','Pb','inset-pb-layer-2');
block(452,720,38,24,14,'#e86060','#e85858','#c84848','TBS','inset-tbs-block-3');
[['DP',108,660,11],['QWS',86,680,11],['QWS',237,660,11],['SS',458,617,11],['DP',417,650,11],['VB',458,697,11]].forEach(a=>{
  const t = txt(dG, a[1], a[2], a[0], a[3], 'start');
  
  
});
{
  const ar1 = ln(dG, 108, 666, 124, 666, '#111', 1.2); ar1.setAttribute('marker-end','url(#arrK)');
  
  
  const ar2 = ln(dG, 415, 656, 433, 656, '#111', 1.2); ar2.setAttribute('marker-end','url(#arrK)');
  
  
}
[[367,'E'],[402,'0.2'],[435,'0.4'],[468,'0.6'],[502,'0.8'],[597,'E'],[630,'0.2'],[663,'0.4'],[696,'0.6'],[729,'0.8']].forEach(a=>{
  const t = txt(dG, 76, a[0]+6, a[1], 15, 'end');
  if(a[1]==='E'){ t.textContent=''; const ts=mk('tspan',t); ts.setAttribute('font-style','italic'); ts.setAttribute('font-size',16); ts.textContent='E'; const s=mk('tspan',t); s.setAttribute('font-size',9); s.setAttribute('dy',3); s.textContent='F'; t.setAttribute('x',78); }
  
  
});

// ---------- (e) ----------
const eSmallX0 = [910, 985];
const xS = (b,s) => eSmallX0[s] + b*9.4;
const yS = v => 382 - (v-1.5)*125;
const eS = document.getElementById('eSmall');
eSmallSeries.forEach((ser,s)=>{
  const pl = mk('polyline', eS);
  pl.setAttribute('points', eBias.map((b,i)=>xS(b,s).toFixed(1)+','+yS(ser[i]).toFixed(1)).join(' '));
  pl.setAttribute('fill','none'); pl.setAttribute('stroke',eSmallColors[s]); pl.setAttribute('stroke-width',1.8); pl.setAttribute('stroke-linejoin','round');
  
  
  eXTicks.forEach(b=>{
    const t = txt(eS, xS(b,s), 510, String(b), 15);
    
    
    const m = ln(eS, xS(b,s), 494, xS(b,s), 490, '#333', 1);
    
    
  });
});
eSmallYTicks.forEach(v=>{
  const t = txt(eS, 869, yS(v)+6, v.toFixed(1), 15, 'end');
  
  
  const m = ln(eS, 873, yS(v), 877, yS(v), '#333', 1);
  
  
});
const eBigX0 = [724, 809, 894, 979];
const xE = (b,s) => eBigX0[s] + b*10;
const yE = v => 690 - (v-1)*107;
const eB = document.getElementById('eBig');
eBigSeries.forEach((ser,s)=>{
  const pl = mk('polyline', eB);
  pl.setAttribute('points', eBias.map((b,i)=>xE(b,s).toFixed(1)+','+yE(ser[i]).toFixed(1)).join(' '));
  pl.setAttribute('fill','none'); pl.setAttribute('stroke',eBigColors[s]); pl.setAttribute('stroke-width',2.6); pl.setAttribute('stroke-linejoin','round');
  
  
  const peak = Math.max.apply(null, ser);
  const cap = ln(eB, xE(0,s)-6, yE(peak), xE(0,s)+6, yE(peak), '#40a0e0', 2);
  
  
  eXTicks.forEach(b=>{
    const t = txt(eB, xE(b,s), 773, String(b), 15);
    
    
    const m = ln(eB, xE(b,s), 755, xE(b,s), 751, '#333', 1);
    
    
  });
});
eBigYTicks.forEach(v=>{
  const t = txt(eB, 677, yE(v)+6, v.toFixed(1), 15, 'end');
  
  
  const m = ln(eB, 682, yE(v), 686, yE(v), '#333', 1);
  
  
});
</script>
</body></html>
